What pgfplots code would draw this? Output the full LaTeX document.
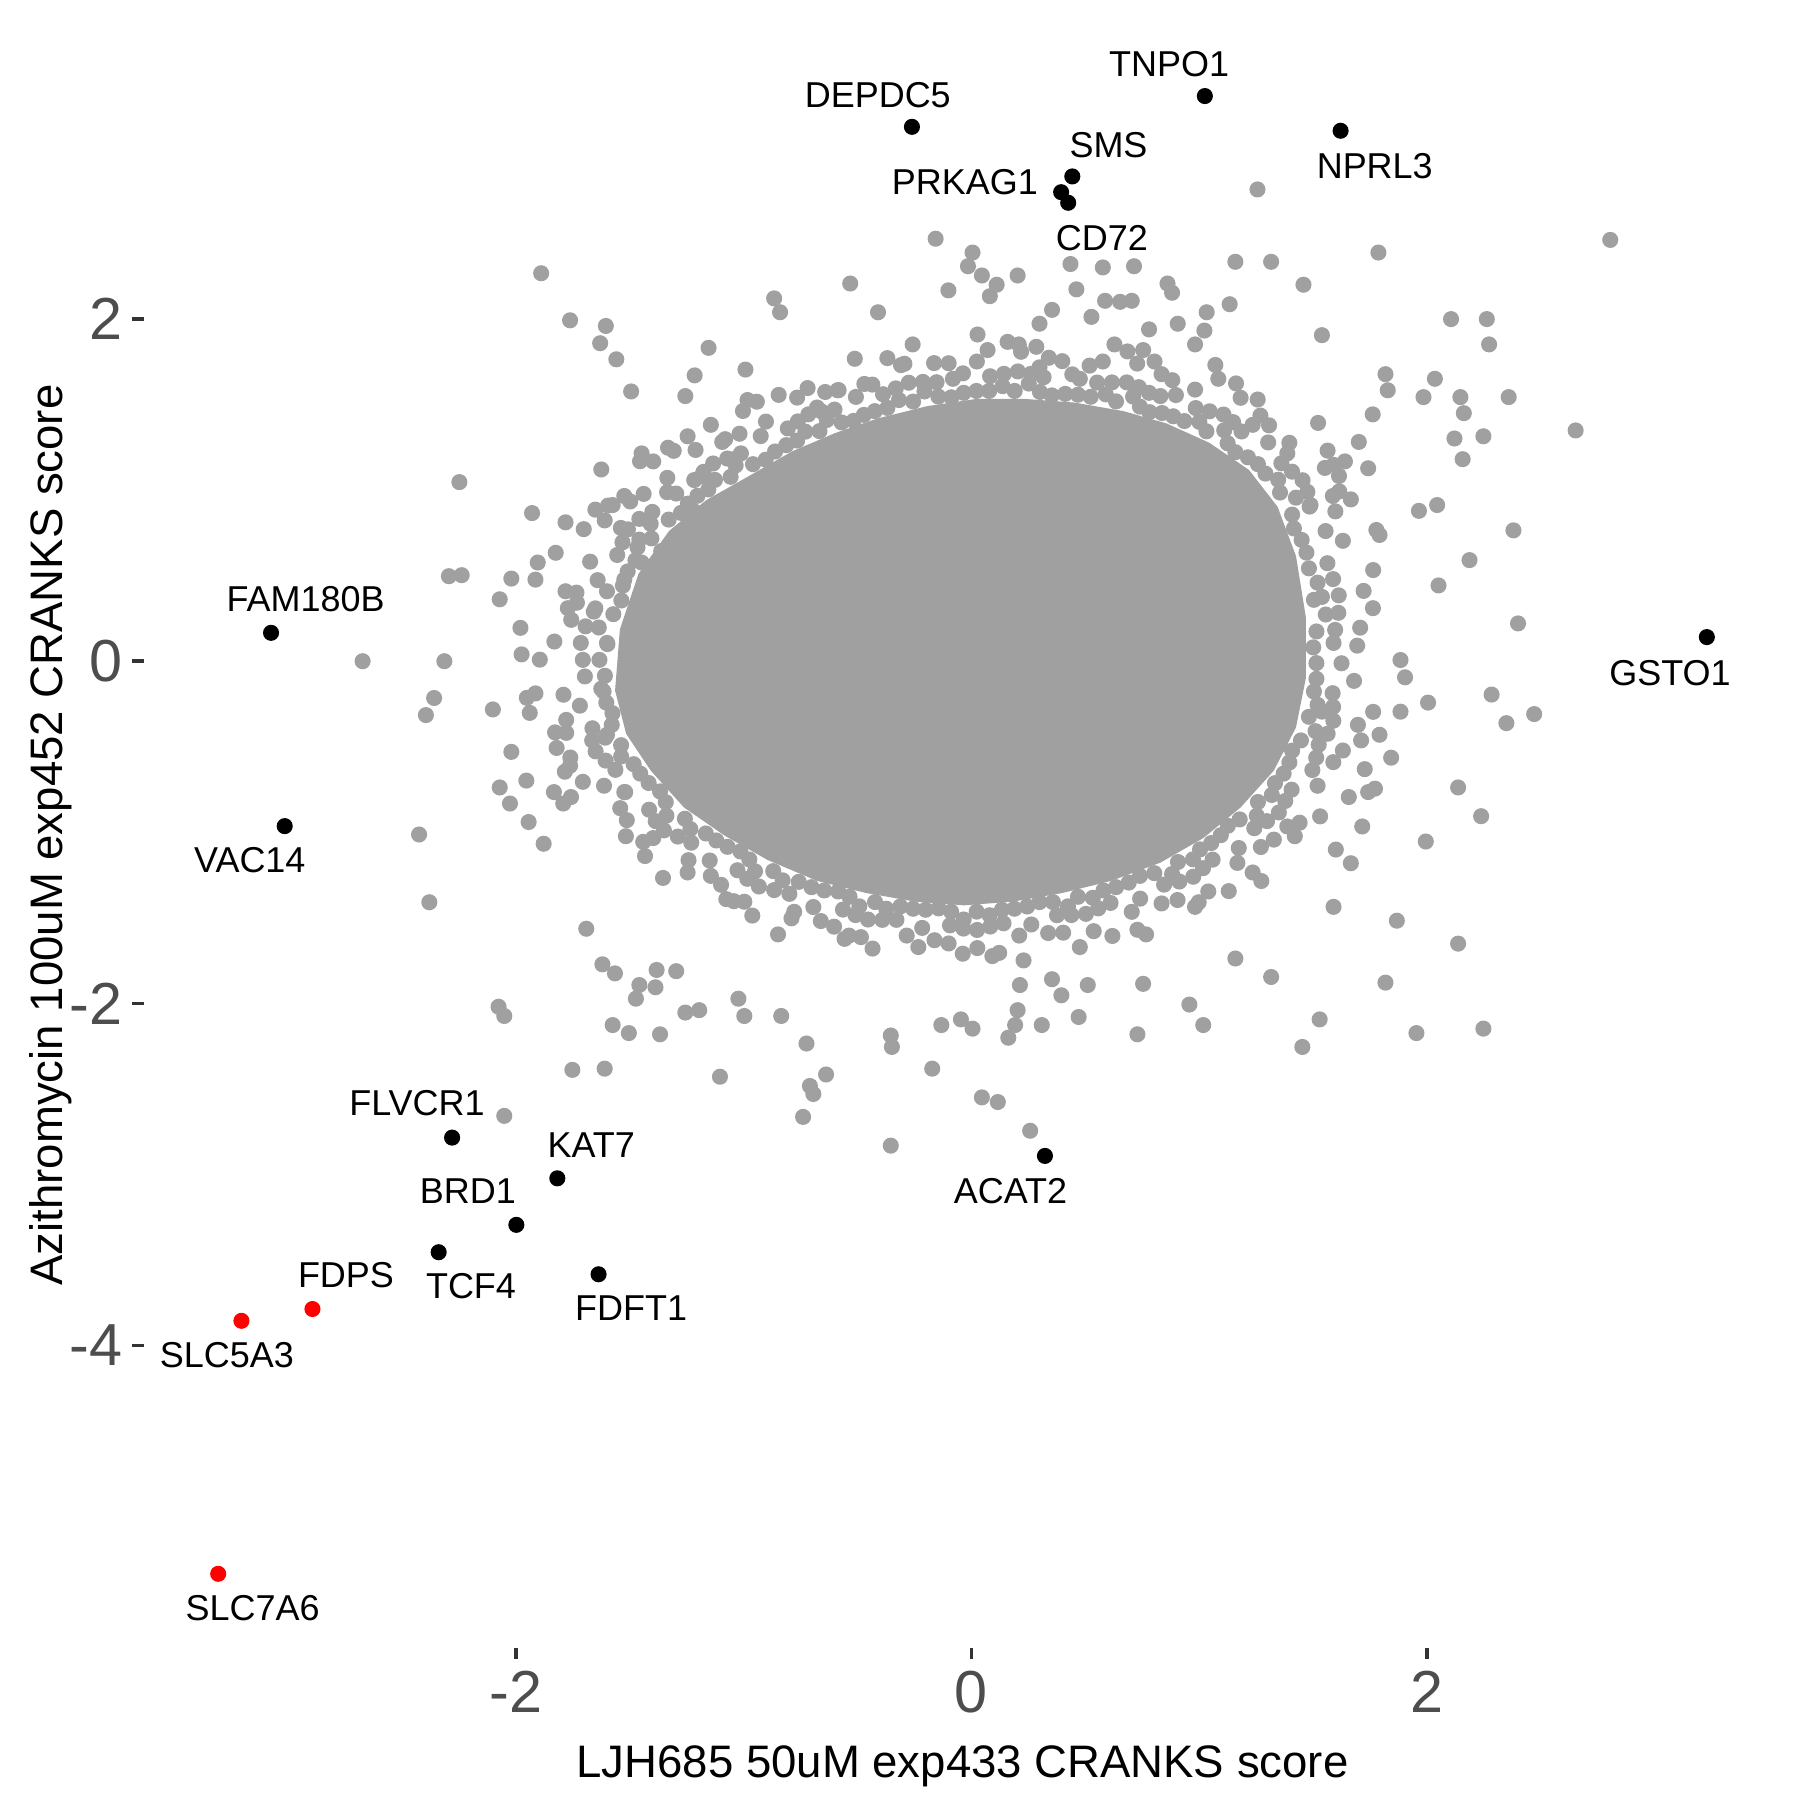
\documentclass[border=0pt]{standalone}
\usepackage{pgfplots}
\pgfplotsset{compat=1.18}
\usepackage{fontspec}
\setmainfont{Liberation Sans}
\definecolor{ptgray}{RGB}{160,160,160}
\definecolor{ticklab}{RGB}{77,77,77}
\definecolor{tickcol}{RGB}{51,51,51}
\definecolor{hired}{RGB}{255,0,0}
\begin{document}
\begin{tikzpicture}
\begin{axis}[
  scale only axis,
  width=427.95pt, height=424.8pt,
  xmin=-3.634, xmax=3.556, ymin=-5.767, ymax=3.736,
  clip=false,
  axis line style={draw=none},
  tick pos=left,
  tick align=outside,
  major tick length=3pt,
  tick style={color=tickcol, line width=0.9pt},
  xtick={-2,0,2}, xticklabels={-2,0,2},
  ytick={-4,-2,0,2}, yticklabels={-4,-2,0,2},
  xticklabel style={font=\fontsize{15.5}{16}\selectfont, text=ticklab, inner sep=0pt, anchor=north, yshift=-3pt},
  yticklabel style={font=\fontsize{15.5}{16}\selectfont, text=ticklab, inner sep=0pt, anchor=east, xshift=-2.4pt},
  xlabel={LJH685 50uM exp433 CRANKS score},
  ylabel={Azithromycin 100uM exp452 CRANKS score},
  xlabel style={font=\fontsize{11.9}{14}\selectfont, at={(axis description cs:0.5,-0.0796)}, anchor=base, inner sep=0pt},
  ylabel style={font=\fontsize{11.9}{14}\selectfont, at={(axis description cs:-0.0493,0.5)}, anchor=base, inner sep=0pt},
]
% dense core of the cloud
\addplot[fill=ptgray, draw=ptgray, line width=1pt] coordinates {
(-1.556,-0.171) (-1.535,0.184) (-1.454,0.506) (-1.321,0.754) (-1.160,0.932)
(-0.971,1.074) (-0.783,1.217) (-0.596,1.323) (-0.408,1.409) (-0.193,1.480)
(0.021,1.522) (0.236,1.522) (0.451,1.501) (0.666,1.451) (0.853,1.380)
(1.041,1.267) (1.213,1.110) (1.337,0.897) (1.417,0.612) (1.460,0.257)
(1.460,-0.100) (1.417,-0.384) (1.321,-0.633) (1.176,-0.847) (1.014,-1.024)
(0.827,-1.167) (0.612,-1.273) (0.398,-1.344) (0.182,-1.394) (-0.032,-1.416)
(-0.247,-1.394) (-0.461,-1.344) (-0.676,-1.273) (-0.891,-1.152) (-1.079,-1.010)
(-1.256,-0.847) (-1.401,-0.633) (-1.508,-0.420)
} --cycle;
% individual gray points
\addplot[only marks, mark=*, mark size=1.9pt, color=ptgray] table[row sep=\\] {
x y\\
-0.157 2.470\\ 0.005 2.389\\ -0.015 2.309\\ 0.046 2.255\\ 0.081 2.134\\
0.203 2.255\\ -0.101 2.168\\ 0.111 2.201\\ -0.532 2.208\\ -0.410 2.040\\
-0.840 2.040\\ -0.866 2.121\\ 0.435 2.322\\ 0.577 2.302\\ 0.714 2.309\\
0.704 2.107\\ 0.653 2.101\\ 0.587 2.107\\ 0.461 2.174\\ 0.527 2.013\\
0.354 2.054\\ 0.299 1.973\\ 0.208 1.852\\ 0.861 2.208\\ 0.881 2.154\\
1.159 2.335\\ 1.316 2.335\\ 1.458 2.201\\ 1.256 2.758\\ 1.787 2.389\\
2.805 2.463\\ 1.134 2.087\\ 1.033 2.040\\ 1.023 1.933\\ 0.982 1.852\\
0.906 1.973\\ 0.780 1.940\\ 0.628 1.852\\ 0.577 1.752\\ 0.754 1.819\\
1.539 1.906\\ 1.818 1.678\\ 1.828 1.584\\ 2.035 1.651\\ 1.762 1.443\\
1.985 1.544\\ 2.106 2.000\\ 2.263 2.000\\ 2.273 1.852\\ 2.359 1.544\\
2.147 1.544\\ 2.162 1.450\\ 2.248 1.315\\ 2.121 1.302\\ 2.157 1.181\\
2.653 1.349\\ 1.701 1.282\\ 1.640 1.168\\ 1.590 1.148\\ 1.742 1.128\\
1.615 0.993\\ 1.666 0.946\\ 2.045 0.913\\ 1.965 0.879\\ 2.380 0.765\\
2.187 0.591\\ 2.051 0.443\\ 2.400 0.221\\ 2.284 -0.195\\ 2.349 -0.362\\
2.471 -0.309\\ 2.137 -0.738\\ 2.238 -0.906\\ 1.995 -1.054\\ 2.137 -1.651\\
1.868 -1.517\\ 1.818 -1.879\\ 1.590 -1.436\\ 2.248 -2.148\\ 1.954 -2.174\\
1.529 -2.094\\ 1.453 -2.255\\ 1.316 -1.846\\ 1.159 -1.738\\ 0.957 -2.007\\
1.018 -2.127\\ 0.754 -1.886\\ 0.729 -2.181\\ 0.511 -1.893\\ 0.471 -2.080\\
0.395 -1.953\\ 0.354 -1.859\\ 0.309 -2.127\\ 0.213 -1.893\\ 0.203 -2.040\\
0.192 -2.127\\ 0.162 -2.201\\ 0.116 -2.577\\ 0.046 -2.550\\ 0.258 -2.745\\
-0.172 -2.382\\ -0.132 -2.127\\ -0.046 -2.094\\ 0.005 -2.148\\ -0.354 -2.188\\
-0.349 -2.255\\ -0.354 -2.832\\ -0.739 -2.664\\ -0.709 -2.483\\ -0.694 -2.530\\
-0.638 -2.416\\ -0.724 -2.235\\ -0.835 -2.074\\ -1.104 -2.429\\ -0.997 -2.074\\
-1.023 -1.973\\ -1.195 -2.040\\ -1.256 -2.054\\ -1.367 -2.181\\ -1.504 -2.174\\
-1.575 -2.127\\ -1.752 -2.389\\ -1.610 -2.382\\ -1.691 -1.564\\ -1.620 -1.772\\
-1.565 -1.825\\ -1.382 -1.805\\ -1.296 -1.812\\ -1.458 -1.893\\ -1.473 -1.973\\
-1.387 -1.906\\ -2.051 -2.658\\ -2.076 -2.020\\ -2.051 -2.074\\ -2.425 -1.013\\
-2.380 -1.409\\ -2.395 -0.315\\ -2.359 -0.215\\ -2.314 0.000\\ -2.673 0.000\\
-2.071 0.362\\ -2.020 0.483\\ -2.294 0.497\\ -2.238 0.503\\ -2.248 1.047\\
-1.929 0.866\\ -1.782 0.812\\
-2.101 -0.282\\ -2.020 -0.530\\ -2.071 -0.738\\ -2.026 -0.832\\ -1.944 -0.940\\
-1.878 -1.067\\ -1.792 -0.832\\ -1.833 -0.765\\ -1.762 -0.611\\ -1.954 -0.698\\
-1.939 -0.302\\ -1.828 -0.416\\ -1.706 -0.705\\ -1.975 0.040\\ -1.980 0.195\\
-1.914 -0.188\\
1.792 0.738\\ 1.884 0.007\\ 1.904 -0.094\\ 2.005 -0.242\\ 1.884 -0.295\\
1.792 -0.430\\ 1.843 -0.564\\ 1.727 -0.631\\ 1.742 -0.765\\ 1.600 -1.101\\
1.666 -1.181\\ 1.716 -0.966\\ 1.772 -0.745\\
-1.889 2.268\\ -1.762 1.993\\ -1.605 1.960\\ -1.630 1.859\\ -1.559 1.765\\
-1.494 1.577\\ -1.256 1.550\\ -1.215 1.671\\ -1.154 1.832\\ -0.992 1.705\\
-1.397 1.168\\ -1.625 1.121\\ -1.448 1.215\\ -1.332 1.248\\ -1.246 1.315\\
-1.144 1.382\\ -1.094 1.282\\ -1.003 1.463\\ -0.942 1.517\\ -1.043 1.181\\
-1.185 1.081\\ -1.296 0.980\\ -1.524 0.966\\ -1.575 0.913\\ -1.651 0.886\\
-1.539 0.779\\ -1.458 0.711\\ -1.362 0.644\\ -1.246 0.779\\ -1.220 0.879\\
-1.904 0.577\\ -1.914 0.477\\ -1.782 0.409\\ -1.732 0.342\\ -1.757 0.242\\
-1.651 0.309\\ -1.600 0.409\\ -1.524 0.477\\ -1.448 0.577\\
-0.678 1.483\\ -0.587 1.584\\ -0.435 1.617\\ -0.309 1.731\\ -0.258 1.852\\
-0.081 1.651\\ 0.071 1.819\\ 0.299 1.718\\ 0.476 1.651\\ 0.830 1.550\\
1.084 1.651\\ 1.235 1.382\\ 1.387 1.215\\ 1.489 0.913\\ 1.539 0.376\\
1.590 0.107\\ 1.539 -0.295\\ 1.514 -0.564\\ 1.387 -0.966\\ 1.235 -1.235\\
0.982 -1.436\\ 0.729 -1.570\\ 0.476 -1.671\\ 0.122 -1.705\\ -0.233 -1.671\\
-0.537 -1.604\\ -0.790 -1.503\\ -1.043 -1.403\\ -1.246 -1.235\\ -1.397 -1.034\\
-1.524 -0.765\\ -1.600 -0.430\\ -1.625 -0.161\\ -1.600 0.107\\
-1.615 -0.177\\ -1.636 0.197\\ -1.509 0.525\\ -1.408 0.803\\ -1.203 0.967\\
-1.035 1.145\\ -0.813 1.263\\ -0.635 1.410\\ -0.424 1.462\\ -0.206 1.577\\
0.022 1.580\\ 0.252 1.623\\ 0.468 1.558\\ 0.710 1.547\\ 0.886 1.432\\
1.110 1.350\\ 1.258 1.152\\ 1.425 0.956\\ 1.471 0.635\\ 1.556 0.273\\
1.515 -0.103\\ 1.511 -0.409\\ 1.371 -0.657\\ 1.253 -0.903\\ 1.053 -1.063\\
0.881 -1.244\\ 0.635 -1.321\\ 0.424 -1.433\\ 0.189 -1.447\\ -0.034 -1.510\\
-0.256 -1.447\\ -0.492 -1.433\\ -0.702 -1.321\\ -0.950 -1.228\\ -1.120 -1.048\\
-1.339 -0.903\\ -1.454 -0.657\\ -1.608 -0.447\\
-1.633 0.008\\ -1.537 0.355\\ -1.466 0.665\\ -1.275 0.867\\ -1.126 1.060\\
-0.903 1.178\\ -0.729 1.342\\ -0.517 1.405\\ -0.318 1.527\\ -0.088 1.543\\
0.137 1.608\\ 0.353 1.554\\ 0.590 1.560\\ 0.782 1.456\\ 1.001 1.399\\
1.159 1.222\\ 1.347 1.061\\ 1.416 0.776\\ 1.520 0.459\\ 1.501 0.081\\
1.520 -0.255\\ 1.408 -0.523\\ 1.319 -0.782\\ 1.126 -0.962\\ 0.973 -1.158\\
0.740 -1.255\\ 0.533 -1.383\\ 0.299 -1.408\\ 0.080 -1.485\\ -0.144 -1.445\\
-0.374 -1.447\\ -0.585 -1.346\\ -0.829 -1.281\\ -1.014 -1.112\\ -1.234 -0.981\\
-1.367 -0.761\\ -1.538 -0.557\\ -1.576 -0.304\\
-1.791 -0.196\\ -1.694 0.204\\ -1.674 0.582\\ -1.458 0.832\\ -1.335 1.072\\
-1.072 1.185\\ -0.902 1.401\\ -0.658 1.460\\ -0.470 1.621\\ -0.213 1.633\\
0.024 1.752\\ 0.261 1.680\\ 0.519 1.728\\ 0.735 1.602\\ 0.982 1.588\\
1.149 1.398\\ 1.396 1.277\\ 1.475 0.990\\ 1.631 0.704\\ 1.611 0.283\\
1.680 -0.115\\ 1.564 -0.424\\ 1.520 -0.728\\ 1.298 -0.935\\ 1.168 -1.179\\
0.913 -1.288\\ 0.704 -1.465\\ 0.439 -1.484\\ 0.210 -1.604\\ -0.035 -1.563\\
-0.284 -1.604\\ -0.509 -1.484\\ -0.778 -1.465\\ -0.984 -1.272\\ -1.242 -1.163\\
-1.386 -0.935\\ -1.613 -0.728\\ -1.665 -0.463\\
-1.706 0.008\\ -1.734 0.401\\ -1.532 0.695\\ -1.439 0.978\\ -1.176 1.107\\
-1.018 1.330\\ -0.762 1.402\\ -0.583 1.585\\ -0.332 1.595\\ -0.100 1.742\\
0.143 1.680\\ 0.399 1.754\\ 0.617 1.630\\ 0.882 1.643\\ 1.046 1.461\\
1.307 1.379\\ 1.408 1.108\\ 1.598 0.876\\ 1.588 0.480\\ 1.694 0.091\\
1.588 -0.267\\ 1.589 -0.590\\ 1.378 -0.817\\ 1.271 -1.086\\ 1.017 -1.210\\
0.835 -1.416\\ 0.557 -1.445\\ 0.337 -1.589\\ 0.083 -1.551\\ -0.162 -1.631\\
-0.391 -1.512\\ -0.661 -1.519\\ -0.866 -1.338\\ -1.144 -1.255\\ -1.289 -1.025\\
-1.542 -0.859\\ -1.606 -0.581\\ -1.779 -0.343\\
-1.952 -0.214\\ -1.825 0.634\\ -1.595 0.910\\ -1.455 1.169\\
-0.983 1.527\\ -0.719 1.597\\ -0.512 1.768\\ 0.027 1.910\\ 0.285 1.838\\
0.804 1.752\\ 1.071 1.732\\ 1.257 1.530\\ 1.522 1.393\\ 1.614 1.083\\
1.778 0.767\\ 1.763 0.310\\ 1.711 -0.463\\ 1.657 -0.794\\
1.420 -1.023\\ 1.273 -1.285\\ 0.998 -1.409\\ 0.767 -1.597\\ 0.229 -1.749\\
-0.038 -1.710\\ -0.557 -1.623\\ -0.849 -1.597\\ -1.076 -1.391\\ -1.354 -1.267\\
-1.517 -1.023\\ -1.758 -0.794\\ -1.821 -0.507\\
-1.895 0.009\\ -1.702 0.772\\ -1.307 1.230\\ -0.846 1.557\\ -0.369 1.772\\
0.159 1.867\\ 0.685 1.811\\ 1.162 1.624\\ 1.564 1.231\\ 1.764 0.533\\
1.764 -0.296\\ 1.531 -0.907\\ 1.130 -1.344\\ 0.619 -1.606\\ 0.092 -1.724\\
-0.434 -1.680\\ -0.962 -1.487\\ -1.433 -1.139\\ -1.785 -0.646\\
-1.697 -0.089\\ -1.658 0.290\\ -1.555 0.621\\ -1.401 0.873\\ -1.217 1.059\\
-1.012 1.215\\ -0.806 1.361\\ -0.601 1.471\\ -0.388 1.561\\ -0.153 1.631\\
0.082 1.666\\ 0.317 1.660\\ 0.552 1.629\\ 0.780 1.569\\ 0.985 1.480\\
1.186 1.343\\ 1.361 1.157\\ 1.485 0.904\\ 1.563 0.573\\ 1.597 0.183\\
1.586 -0.187\\ 1.525 -0.488\\ 1.406 -0.751\\ 1.242 -0.976\\ 1.059 -1.160\\
0.846 -1.306\\ 0.611 -1.413\\ 0.376 -1.485\\ 0.141 -1.532\\ -0.094 -1.544\\
-0.329 -1.512\\ -0.564 -1.452\\ -0.799 -1.360\\ -1.027 -1.222\\ -1.230 -1.061\\
-1.415 -0.868\\ -1.563 -0.635\\ -1.664 -0.392\\
-1.598 0.100\\ -1.530 0.442\\ -1.405 0.718\\ -1.245 0.921\\ -1.057 1.078\\
-0.862 1.226\\ -0.667 1.345\\ -0.472 1.440\\ -0.256 1.518\\ -0.034 1.569\\
0.190 1.580\\ 0.412 1.563\\ 0.635 1.519\\ 0.837 1.451\\ 1.032 1.344\\
1.214 1.192\\ 1.355 0.986\\ 1.450 0.709\\ 1.504 0.359\\ 1.515 -0.011\\
1.482 -0.325\\ 1.396 -0.592\\ 1.258 -0.823\\ 1.095 -1.017\\ 0.907 -1.174\\
0.691 -1.294\\ 0.468 -1.377\\ 0.245 -1.434\\ 0.023 -1.464\\ -0.201 -1.453\\
-0.423 -1.408\\ -0.646 -1.340\\ -0.870 -1.227\\ -1.071 -1.085\\ -1.258 -0.921\\
-1.417 -0.712\\ -1.538 -0.491\\ -1.603 -0.242\\
-1.831 0.115\\ -1.610 0.823\\ -1.211 1.235\\ -0.765 1.541\\ -0.294 1.739\\
0.218 1.809\\ 0.728 1.740\\ 1.182 1.540\\ 1.552 1.130\\ 1.722 0.411\\
1.697 -0.372\\ 1.441 -0.944\\ 1.040 -1.346\\ 0.537 -1.578\\ 0.026 -1.677\\
-0.485 -1.613\\ -0.997 -1.406\\ -1.441 -1.056\\ -1.761 -0.563\\
-1.772 0.310\\ -1.498 0.934\\ -1.081 1.298\\ -0.642 1.574\\ -0.164 1.743\\
0.340 1.774\\ 0.835 1.678\\ 1.269 1.436\\ 1.587 0.966\\ 1.707 0.196\\
1.631 -0.522\\ 1.328 -1.043\\ 0.905 -1.396\\ 0.403 -1.587\\ -0.100 -1.650\\
-0.603 -1.552\\ -1.099 -1.307\\ -1.513 -0.929\\ -1.779 -0.419\\
-1.609 -0.085\\ -1.572 0.275\\ -1.475 0.590\\ -1.329 0.828\\ -1.155 1.004\\
-0.959 1.152\\ -0.765 1.290\\ -0.570 1.396\\ -0.369 1.481\\ -0.145 1.547\\
0.078 1.580\\ 0.301 1.574\\ 0.524 1.546\\ 0.740 1.488\\ 0.935 1.404\\
1.125 1.274\\ 1.291 1.097\\ 1.408 0.857\\ 1.482 0.543\\ 1.515 0.174\\
1.504 -0.177\\ 1.447 -0.463\\ 1.333 -0.713\\ 1.178 -0.925\\ 1.004 -1.100\\
0.803 -1.239\\ 0.580 -1.340\\ 0.358 -1.408\\ 0.134 -1.453\\ -0.089 -1.464\\
-0.312 -1.434\\ -0.535 -1.377\\ -0.758 -1.290\\ -0.975 -1.159\\ -1.166 -1.007\\
-1.342 -0.824\\ -1.483 -0.602\\ -1.579 -0.372\\
-1.715 0.107\\ -1.641 0.474\\ -1.508 0.771\\ -1.336 0.988\\ -1.134 1.156\\
-0.925 1.316\\ -0.716 1.443\\ -0.507 1.545\\ -0.275 1.628\\ -0.037 1.683\\
0.204 1.694\\ 0.443 1.677\\ 0.682 1.630\\ 0.898 1.556\\ 1.107 1.442\\
1.303 1.279\\ 1.454 1.058\\ 1.555 0.761\\ 1.613 0.385\\ 1.625 -0.012\\
1.589 -0.348\\ 1.497 -0.636\\ 1.350 -0.884\\ 1.174 -1.092\\ 0.974 -1.260\\
0.741 -1.388\\ 0.503 -1.477\\ 0.263 -1.539\\ 0.025 -1.571\\ -0.216 -1.559\\
-0.454 -1.510\\ -0.694 -1.437\\ -0.933 -1.317\\ -1.149 -1.165\\ -1.350 -0.989\\
-1.520 -0.765\\ -1.650 -0.527\\ -1.719 -0.260\\
};
% highlighted genes (black)
\addplot[only marks, mark=*, mark size=1.9pt, color=black] table[row sep=\\] {
x y\\
1.025 3.304\\ -0.261 3.124\\ 1.621 3.101\\ 0.443 2.834\\ 0.394 2.742\\
0.425 2.680\\ 3.229 0.141\\ -3.075 0.166\\ -3.015 -0.964\\ -2.280 -2.785\\
-1.818 -3.023\\ -1.998 -3.295\\ -2.339 -3.455\\ -1.637 -3.584\\ 0.323 -2.892\\
};
% highlighted genes (red)
\addplot[only marks, mark=*, mark size=1.9pt, color=hired] table[row sep=\\] {
x y\\
-2.893 -3.787\\ -3.205 -3.856\\ -3.307 -5.335\\
};
\begin{scope}[every node/.style={font=\fontsize{9.4}{10}\selectfont, inner sep=0pt, anchor=center}]
\node at (axis cs:0.868,3.488) {TNPO1};
\node at (axis cs:-0.411,3.310) {DEPDC5};
\node at (axis cs:1.771,2.897) {NPRL3};
\node at (axis cs:0.602,3.018) {SMS};
\node at (axis cs:-0.029,2.799) {PRKAG1};
\node at (axis cs:0.573,2.475) {CD72};
\node at (axis cs:3.067,-0.068) {GSTO1};
\node at (axis cs:-2.923,0.362) {FAM180B};
\node at (axis cs:-3.168,-1.164) {VAC14};
\node at (axis cs:-2.434,-2.582) {FLVCR1};
\node at (axis cs:-1.669,-2.830) {KAT7};
\node at (axis cs:-2.211,-3.099) {BRD1};
\node at (axis cs:-2.197,-3.653) {TCF4};
\node at (axis cs:-1.494,-3.782) {FDFT1};
\node at (axis cs:0.172,-3.099) {ACAT2};
\node at (axis cs:-2.746,-3.589) {FDPS};
\node at (axis cs:-3.269,-4.058) {SLC5A3};
\node at (axis cs:-3.156,-5.533) {SLC7A6};
\end{scope}
\end{axis}
\pgfresetboundingbox
\path[use as bounding box] (current axis.south west) ++(-37.56pt,-39.8pt) rectangle ++(470.4pt,470.4pt);
\end{tikzpicture}
\end{document}
